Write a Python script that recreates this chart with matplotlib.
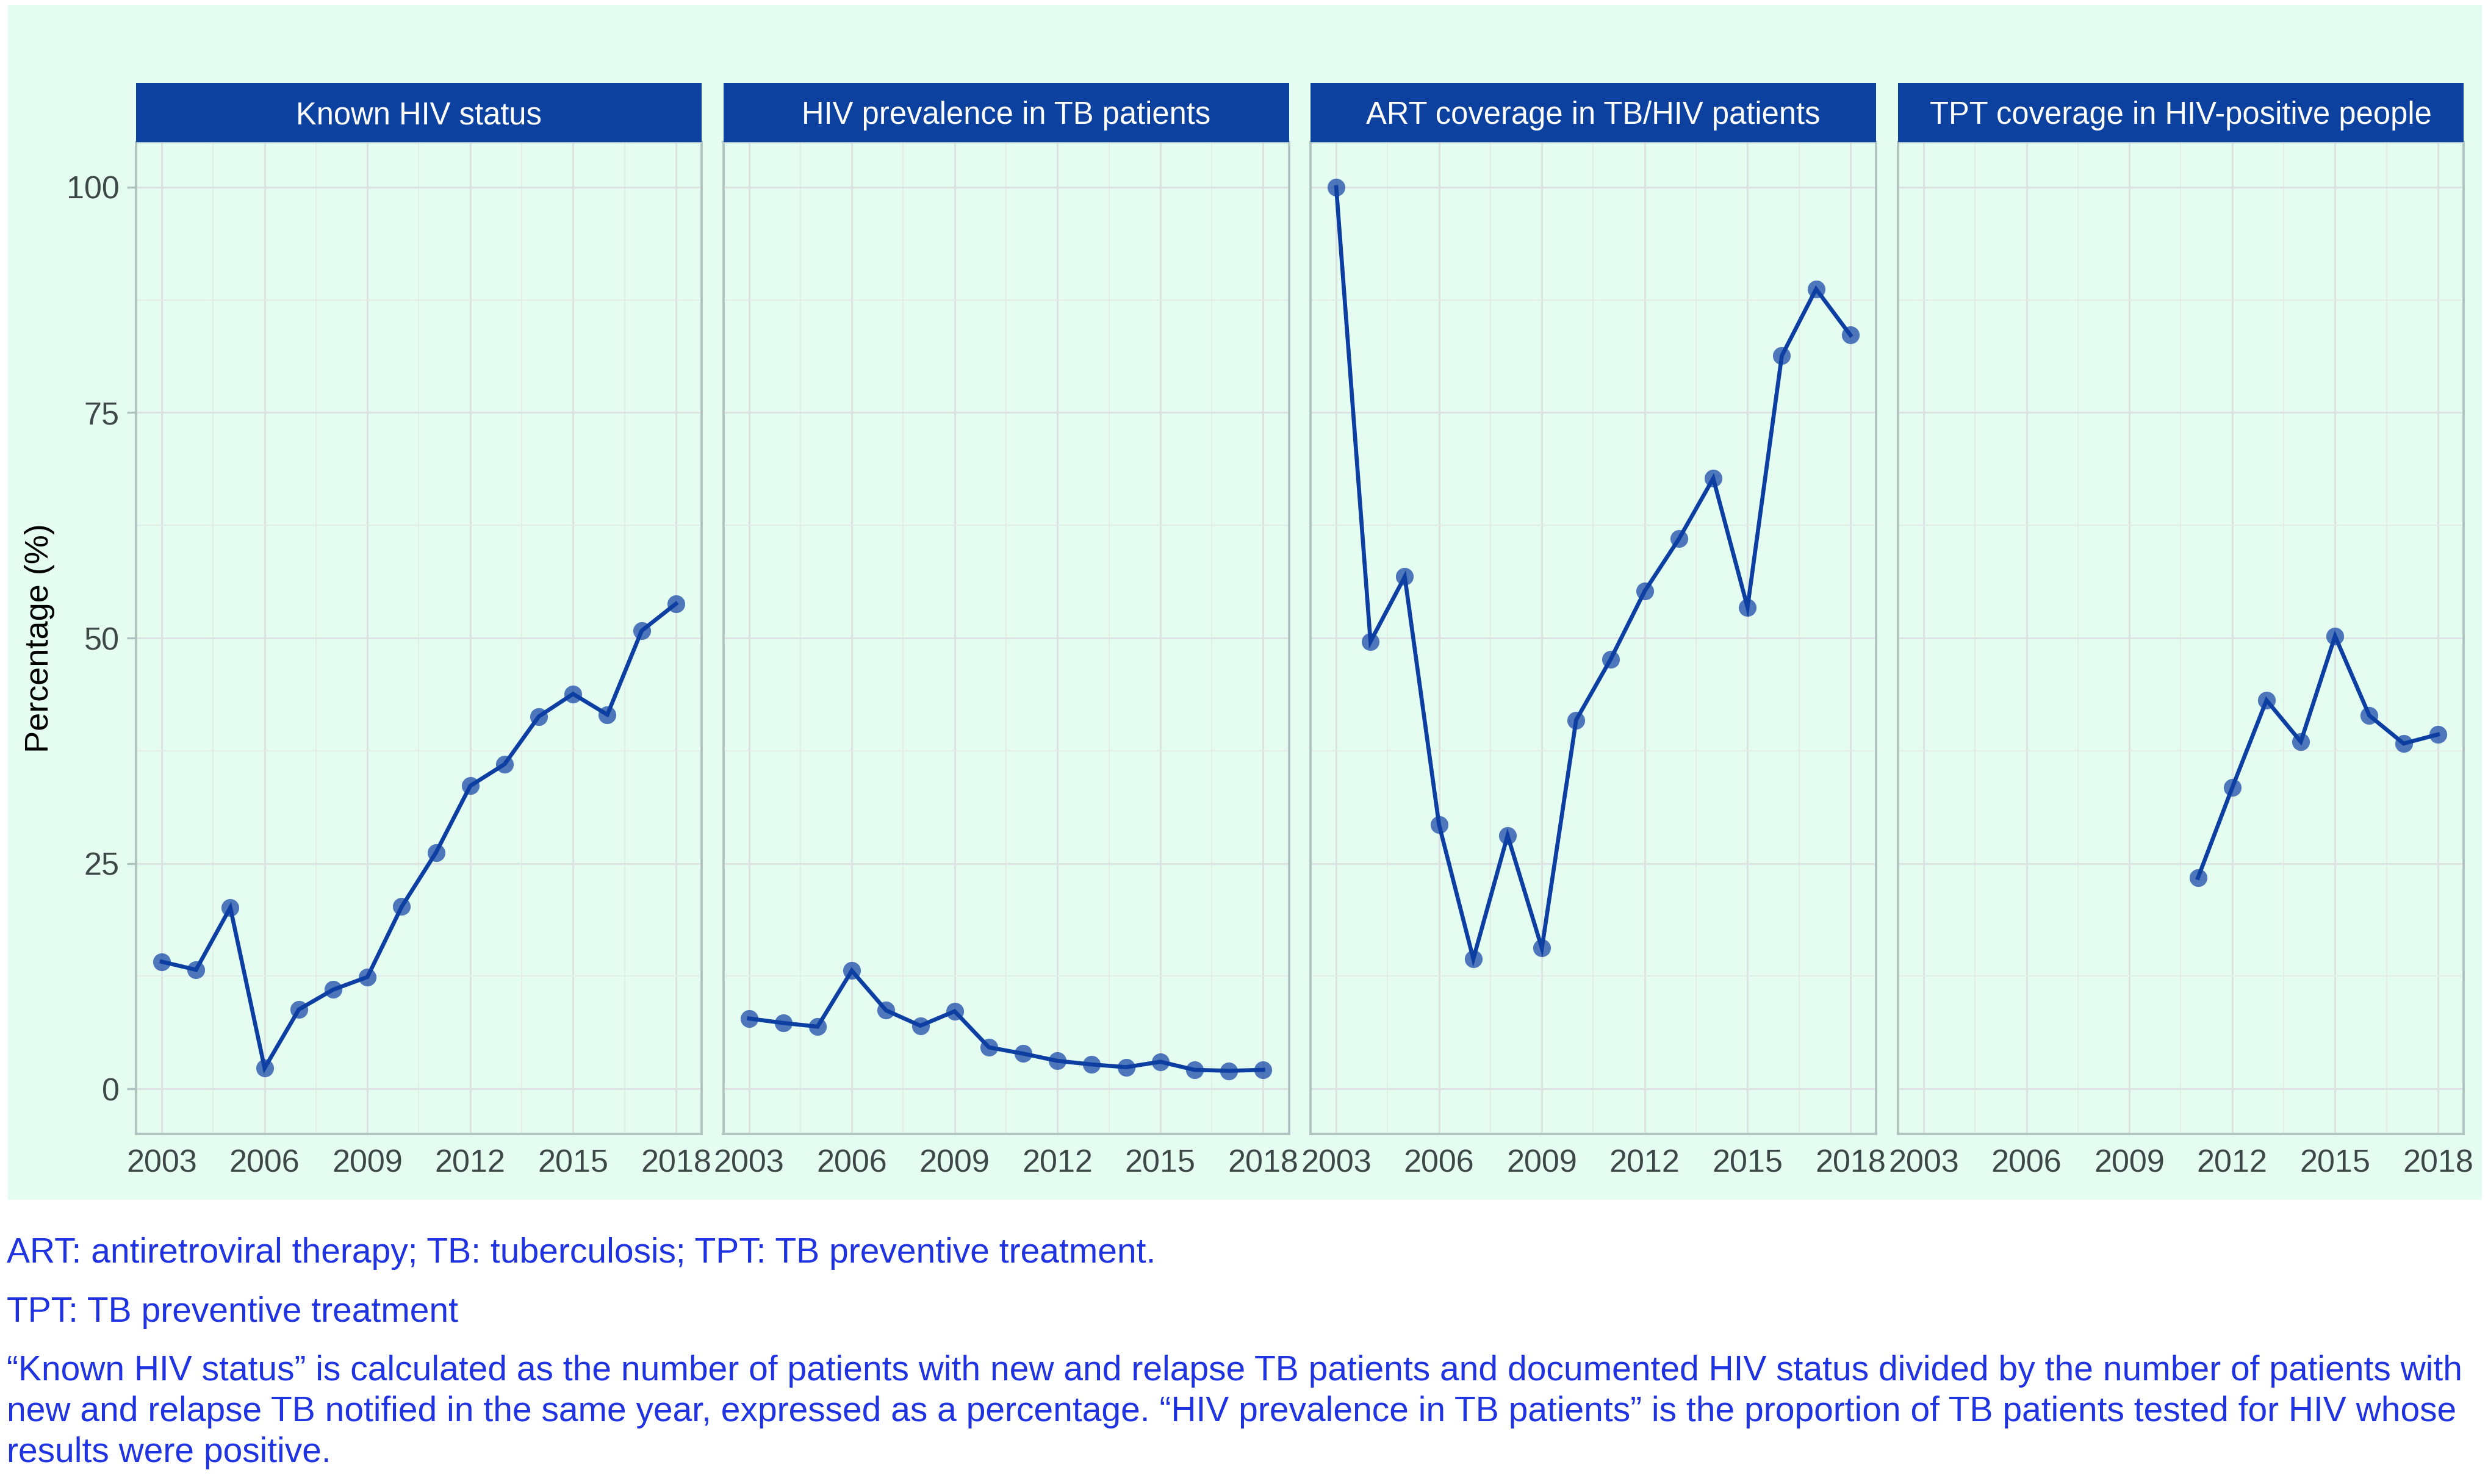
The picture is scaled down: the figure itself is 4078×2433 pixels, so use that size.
import matplotlib
matplotlib.use('Agg')
import matplotlib.pyplot as plt
from matplotlib.patches import Rectangle
from matplotlib.ticker import FixedLocator

# ---------------- data ----------------
years = list(range(2003, 2019))
tpt_years = list(range(2011, 2019))
known_status = [14.1, 13.2, 20.1, 2.3, 8.8, 11.0, 12.4, 20.2, 26.2, 33.6, 36.0, 41.3, 43.8, 41.5, 50.8, 53.8]
hiv_prev = [7.8, 7.3, 6.9, 13.1, 8.7, 7.0, 8.6, 4.6, 3.9, 3.1, 2.7, 2.4, 3.0, 2.1, 2.0, 2.1]
art_cov = [100.0, 49.6, 56.8, 29.3, 14.4, 28.1, 15.6, 40.9, 47.6, 55.2, 61.0, 67.7, 53.4, 81.3, 88.7, 83.6]
tpt_cov = [23.4, 33.4, 43.1, 38.5, 50.2, 41.4, 38.3, 39.3]
panel_titles = ["Known HIV status", "HIV prevalence in TB patients",
                "ART coverage in TB/HIV patients", "TPT coverage in HIV-positive people"]
x_ticks = [2003, 2006, 2009, 2012, 2015, 2018]
x_minor = [2004.5, 2007.5, 2010.5, 2013.5, 2016.5]
y_ticks = [0, 25, 50, 75, 100]
y_minor = [12.5, 37.5, 62.5, 87.5]
y_label = "Percentage (%)"
footnotes = [
    "ART: antiretroviral therapy; TB: tuberculosis; TPT: TB preventive treatment.",
    "TPT: TB preventive treatment",
    "\u201cKnown HIV status\u201d is calculated as the number of patients with new and relapse TB patients and documented HIV status divided by the number of patients with",
    "new and relapse TB notified in the same year, expressed as a percentage. \u201cHIV prevalence in TB patients\u201d is the proportion of TB patients tested for HIV whose",
    "results were positive.",
]
series = [(years, known_status), (years, hiv_prev), (years, art_cov), (tpt_years, tpt_cov)]

# ---------------- style ----------------
W, H, DPI = 4079, 2433, 300
BG = "#e5fdf0"
STRIP = "#0d419f"
LINE = "#0d3fa3"
BORDER = "#b0c2bf"
GRID_MAJ = "#dce3e2"
GRID_MIN = "#e4ebe8"
TICKCOL = "#3d4747"
NOTE = "#1f33e0"
plt.rcParams['font.family'] = ['Liberation Sans', 'DejaVu Sans']

fig = plt.figure(figsize=(W / DPI, H / DPI), dpi=DPI)
fig.patch.set_facecolor("white")

def fx(px):
    return px / W

def fy(py):
    return 1 - py / H

# green background panel
bg = Rectangle((fx(13), fy(1967)), fx(4068) - fx(13), fy(8) - fy(1967),
               transform=fig.transFigure, facecolor=BG, edgecolor="none", zorder=-10)
fig.patches.append(bg)

lefts = [223, 1185.5, 2148, 3111]
pw = 927
top, bottom = 233, 1859
strip_top = 136

for i, (xs, ys) in enumerate(series):
    l = lefts[i]
    ax = fig.add_axes([fx(l), fy(bottom), pw / W, (bottom - top) / H])
    ax.set_facecolor(BG)
    ax.set_xlim(2002.25, 2018.75)
    ax.set_ylim(-5, 105)
    ax.xaxis.set_major_locator(FixedLocator(x_ticks))
    ax.xaxis.set_minor_locator(FixedLocator(x_minor))
    ax.yaxis.set_major_locator(FixedLocator(y_ticks))
    ax.yaxis.set_minor_locator(FixedLocator(y_minor))
    ax.grid(which="major", color=GRID_MAJ, linewidth=0.75, zorder=0)
    ax.grid(which="minor", color=GRID_MIN, linewidth=0.45, zorder=0)
    ax.set_axisbelow(True)
    for sp in ax.spines.values():
        sp.set_color(BORDER)
        sp.set_linewidth(0.9)
    ax.tick_params(axis="x", which="both", length=0, pad=6.0, labelsize=12.5, labelcolor=TICKCOL)
    ax.tick_params(axis="x", which="minor", labelbottom=False)
    ax.tick_params(axis="y", which="minor", length=0)
    if i == 0:
        ax.tick_params(axis="y", which="major", length=3.6, width=0.8, color=BORDER,
                       pad=3.0, labelsize=12.5, labelcolor=TICKCOL)
    else:
        ax.tick_params(axis="y", which="major", length=0, labelleft=False)
    ax.set_xticklabels([str(t) for t in x_ticks])

    ax.plot(xs, ys, linestyle="none", marker="o", markersize=7.0, color=LINE,
            alpha=0.7, markeredgewidth=0, zorder=3)
    ax.plot(xs, ys, color=LINE, linewidth=1.6, zorder=4, solid_joinstyle="miter")

    # strip
    sax = fig.add_axes([fx(l), fy(top), pw / W, (top - strip_top) / H])
    sax.set_facecolor(STRIP)
    sax.set_xticks([])
    sax.set_yticks([])
    for sp in sax.spines.values():
        sp.set_visible(False)
    sax.text(0.5, 1 - (203 - strip_top) / (top - strip_top), panel_titles[i],
             transform=sax.transAxes, color="white", fontsize=12.2,
             ha="center", va="baseline")

fig.text(fx(65), fy((top + bottom) / 2), y_label, rotation=90, ha="center", va="center",
         fontsize=13, color="black")

baselines = [2070, 2167, 2263, 2330, 2397]
for txt, b in zip(footnotes, baselines):
    fig.text(fx(11), fy(b), txt, color=NOTE, fontsize=13.7, ha="left", va="baseline")

fig.savefig("out.png", dpi=DPI, facecolor="white")
